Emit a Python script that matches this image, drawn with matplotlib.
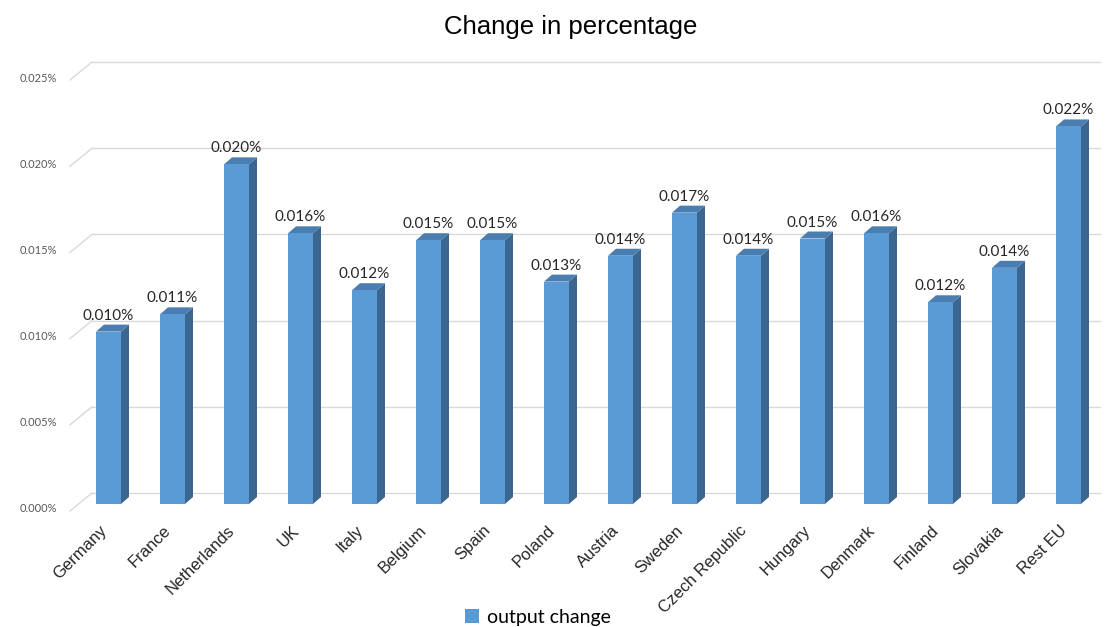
import matplotlib
matplotlib.use("Agg")
import matplotlib.pyplot as plt
from matplotlib.patches import Rectangle, Polygon, Patch

# ---- data ----
categories = ["Germany", "France", "Netherlands", "UK", "Italy", "Belgium", "Spain",
              "Poland", "Austria", "Sweden", "Czech Republic", "Hungary", "Denmark",
              "Finland", "Slovakia", "Rest EU"]
output_change = [0.0100, 0.0110, 0.0197, 0.0157, 0.0124, 0.0153, 0.0153, 0.0129,
                 0.0144, 0.0169, 0.0144, 0.0154, 0.0157, 0.0117, 0.0137, 0.0219]  # in %
yticks = [0.000, 0.005, 0.010, 0.015, 0.020, 0.025]
series_name = "output change"
title = "Change in percentage"

# ---- layout (pixel geometry of the 3D look) ----
W, H = 1108, 627
X0_PX, X_STEP_PX = 108.5, 64.0       # first bar centre, bar spacing
Y0_PX, Y_SCALE_PX = 504.0, 17240.0   # baseline pixel, px per 1 % unit
DX = 1.0 / X_STEP_PX                 # data units per px (x)
DY = 1.0 / Y_SCALE_PX                # data units per px (y)

def px2x(px):
    return (px - X0_PX) / X_STEP_PX

def py2y(py):
    return (Y0_PX - py) / Y_SCALE_PX

FRONT = "#5B9BD5"
SIDE = "#3B6690"
TOP = "#4A7DB0"
GRID = "#D9D9D9"

fig = plt.figure(figsize=(W / 100, H / 100), dpi=100)
ax = fig.add_axes([0, 0, 1, 1])
ax.set_xlim(px2x(0), px2x(W))
ax.set_ylim(py2y(H), py2y(0))
ax.axis("off")

# back wall gridlines + diagonals + tick labels
wall_dy = 11 * DY
for t in yticks:
    ax.plot([px2x(92), px2x(1100)], [t + wall_dy, t + wall_dy], color=GRID, lw=1.0, zorder=1)
    ax.plot([px2x(70), px2x(92)], [t - 7 * DY, t + wall_dy], color=GRID, lw=1.0, zorder=1)
    ax.text(px2x(57), t - 5 * DY, f"{t:.3f}%", ha="right", va="center",
            fontsize=8, color="#595959", family="Lato")

# bars
bw = 25 * DX
ddx, ddy = 8 * DX, 7 * DY
for i, v in enumerate(output_change):
    l, r = i - bw / 2, i + bw / 2
    ax.add_patch(Polygon([(r, 0), (r + ddx, ddy), (r + ddx, v + ddy), (r, v)],
                         closed=True, facecolor=SIDE, edgecolor="none", zorder=3))
    ax.add_patch(Polygon([(l, v), (r, v), (r + ddx, v + ddy), (l + ddx, v + ddy)],
                         closed=True, facecolor=TOP, edgecolor="none", zorder=3))
    ax.add_patch(Rectangle((l, 0), bw, v, facecolor=FRONT, edgecolor="none", zorder=4))
    ax.text(i, v + 16 * DY, f"{v:.3f}%", ha="center", va="center",
            fontsize=11, color="#262626", family="Lato", zorder=5)
    ax.text(i - 4 * DX, py2y(528), categories[i], rotation=45, rotation_mode="anchor",
            ha="right", va="center", fontsize=12, color="#262626",
            family="Liberation Sans")

fig.text(571 / W, 1 - 27 / H, title, ha="center", va="center",
         fontsize=18.5, color="#000000", family="Liberation Sans")

leg = fig.legend(handles=[Patch(facecolor=FRONT, edgecolor="none")], labels=[series_name],
                 loc="center", bbox_to_anchor=(538 / W, 1 - 617 / H), frameon=False,
                 handlelength=0.7, handleheight=0.7, handletextpad=0.4,
                 prop={"family": "Lato", "size": 14})

fig.savefig("out.png", dpi=100)
